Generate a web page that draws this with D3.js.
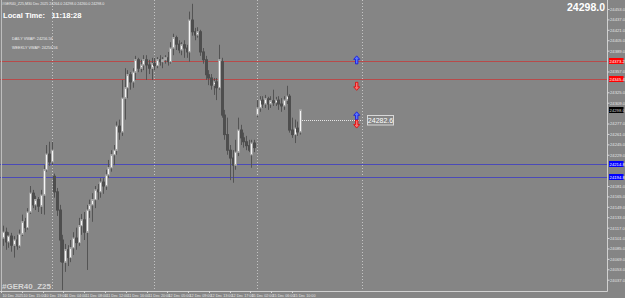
<!DOCTYPE html>
<html>
<head>
<meta charset="utf-8">
<script src="https://cdn.jsdelivr.net/npm/d3@7"></script>
<style>
  html, body { margin: 0; padding: 0; background: #858585; }
  svg { display: block; }
  text { font-family: "Liberation Sans", Arial, sans-serif; }
</style>
</head>
<body>
<div id="chart"></div>
<script>
// #GER40_Z25 M30 candlestick chart, MetaTrader style, drawn with D3.

// OHLC per bar (left to right)
const opens = [24101,24110,24095,24104,24090,24098,24089,24107,24126,24117,24141,24170,24152,24160,24150,24167,24206,24230,24218,
  24196,24172,24144,24098,24064,24083,24071,24086,24101,24094,24120,24129,24110,24144,24152,24160,24175,24172,24187,24181,24198,
  24209,24229,24236,24273,24264,24316,24332,24352,24341,24356,24375,24362,24367,24375,24367,24362,24369,24366,24375,24372,
  24375,24378,24372,24393,24409,24399,24390,24398,24393,24387,24436,24418,24413,24418,24387,24375,24352,24347,24336,24341,
  24332,24372,24290,24260,24236,24224,24213,24233,24267,24255,24249,24243,24229,24247,24290,24301,24313,24307,24315,24307,
  24312,24309,24313,24307,24304,24313,24319,24267,24260,24270,24264];
const highs = [24120,24117,24110,24109,24104,24106,24114,24137,24132,24147,24181,24175,24166,24164,24175,24213,24244,24249,24249,
  24200,24178,24152,24106,24092,24090,24098,24110,24117,24132,24138,24141,24152,24160,24170,24181,24184,24193,24193,24206,24221,
  24236,24244,24280,24283,24344,24362,24359,24356,24362,24381,24378,24375,24382,24382,24375,24378,24378,24379,24382,24379,
  24382,24387,24402,24415,24412,24405,24402,24405,24398,24449,24461,24424,24425,24421,24393,24381,24359,24353,24347,24347,
  24398,24378,24298,24286,24244,24236,24252,24286,24275,24263,24258,24252,24252,24252,24313,24319,24319,24321,24318,24319,
  24329,24318,24319,24316,24319,24335,24322,24286,24283,24280,24298];
const lows = [24089,24083,24086,24080,24071,24083,24086,24104,24110,24114,24138,24147,24144,24141,24138,24137,24203,24212,24213,
  24163,24135,24064,24021,24049,24058,24064,24075,24083,24089,24106,24098,24052,24132,24126,24147,24160,24163,24169,24175,24193,
  24203,24213,24229,24252,24258,24283,24316,24329,24332,24344,24356,24356,24359,24344,24353,24344,24359,24362,24366,24362,
  24369,24366,24369,24382,24390,24385,24382,24378,24378,24372,24412,24405,24409,24381,24369,24344,24336,24329,24321,24313,
  24329,24286,24252,24229,24190,24186,24206,24227,24244,24240,24236,24233,24209,24233,24286,24295,24301,24301,24298,24301,
  24304,24304,24298,24295,24298,24307,24263,24255,24247,24258,24260];
const closes = [24110,24095,24104,24090,24098,24089,24107,24126,24117,24141,24170,24152,24160,24150,24167,24206,24230,24218,24236,
  24172,24144,24098,24064,24083,24071,24086,24101,24094,24120,24129,24110,24144,24152,24160,24175,24172,24187,24181,24198,24209,
  24229,24236,24273,24264,24316,24332,24352,24341,24356,24375,24362,24367,24375,24367,24362,24369,24366,24375,24372,24375,
  24378,24372,24393,24409,24399,24390,24398,24393,24387,24436,24418,24413,24418,24387,24375,24352,24347,24336,24341,24332,
  24375,24290,24260,24236,24224,24213,24233,24267,24255,24249,24243,24236,24247,24240,24301,24313,24307,24315,24307,24312,
  24309,24313,24307,24304,24313,24319,24267,24260,24270,24264,24298];

const priceTicks = [24453.0,24437.0,24421.0,24405.0,24389.0,24373.0,24357.0,24341.0,24325.0,24309.0,24293.0,24277.0,24261.0,
  24245.0,24229.0,24213.0,24197.0,24181.0,24165.0,24149.0,24133.0,24117.0,24101.0,24085.0,24069.0,24053.0,24037.0];
const timeLabels = ['10 Dec 2025','10 Dec 15:00','10 Dec 19:00','11 Dec 04:00','11 Dec 08:00','11 Dec 12:00','11 Dec 16:00',
  '11 Dec 20:00','12 Dec 05:00','12 Dec 09:00','12 Dec 13:00','12 Dec 17:00','15 Dec 02:00','15 Dec 06:00','15 Dec 10:00'];
const labelStep = 8;
const daySeparators = [18, 56, 94, 133];

const redLevels = [24373.2, 24345.4];
const blueLevels = [24214.8, 24194.8];
const bidPrice = 24298.0;
const markerPrice = 24282.6;
const arrowBar = 131;
const arrowsUp = [24381, 24295];
const arrowsDown = [24328, 24270];

const W = 625, H = 298;
const plotRight = 607, plotBottom = 291;

const x = d3.scaleLinear().domain([0, 110]).range([3, 300]);
const y = d3.scaleLinear().domain([24035, 24453]).range([281, 9]);
const px = i => Math.round(x(i));
const tx = d3.scaleLinear().domain([0, 112]).range([1, 292]);

const svg = d3.select('#chart').append('svg').attr('width', W).attr('height', H);
svg.append('rect').attr('width', W).attr('height', H).attr('fill', '#858585');

// period separators
svg.append('g').selectAll('line').data(daySeparators).join('line')
  .attr('x1', d => px(d) + 0.5).attr('x2', d => px(d) + 0.5)
  .attr('y1', 0).attr('y2', plotBottom)
  .attr('stroke', '#c4c4c4').attr('stroke-dasharray', '1,2');

// horizontal levels
const levels = redLevels.map(v => ({ v, c: '#b84a4a' })).concat(blueLevels.map(v => ({ v, c: '#4a4ab8' })));
svg.append('g').selectAll('line').data(levels).join('line')
  .attr('x1', 0).attr('x2', plotRight)
  .attr('y1', d => Math.round(y(d.v)) + 0.5).attr('y2', d => Math.round(y(d.v)) + 0.5)
  .attr('stroke', d => d.c).attr('stroke-width', 1.2);

// candles
const bars = d3.range(opens.length).map(i => ({ i, o: opens[i], h: highs[i], l: lows[i], c: closes[i] }));
const cg = svg.append('g');
cg.selectAll('line').data(bars).join('line')
  .attr('x1', d => px(d.i) + 0.5).attr('x2', d => px(d.i) + 0.5)
  .attr('y1', d => y(d.h)).attr('y2', d => y(d.l))
  .attr('stroke', '#545454');
cg.selectAll('rect').data(bars).join('rect')
  .attr('x', d => px(d.i) - 0.5)
  .attr('width', 2)
  .attr('y', d => y(Math.max(d.o, d.c)))
  .attr('height', d => Math.max(1, Math.abs(y(d.o) - y(d.c))))
  .attr('fill', d => d.c >= d.o ? '#f4f4f4' : '#4e4e4e')
  .attr('stroke', d => d.c >= d.o ? '#a6a6a6' : '#4e4e4e')
  .attr('stroke-width', 1);

// marker dotted line and label
const my = Math.round(y(markerPrice)) + 0.5;
svg.append('line').attr('x1', px(110) + 2).attr('x2', px(daySeparators[3]))
  .attr('y1', my).attr('y2', my).attr('stroke', '#e6e6e6').attr('stroke-dasharray', '1,1');
svg.append('rect').attr('x', 367.5).attr('y', my - 5).attr('width', 26).attr('height', 9.5)
  .attr('fill', '#858585').attr('stroke', '#d8d8d8');
svg.append('text').attr('x', 380.5).attr('y', my + 2.6).attr('text-anchor', 'middle')
  .attr('font-size', 7).attr('fill', '#ffffff').text(markerPrice.toFixed(1));

// arrows
const ax = x(arrowBar);
const upPath = 'M0,0 L3,3.5 L1.2,3.5 L1.2,8 L-1.2,8 L-1.2,3.5 L-3,3.5 Z';
const downPath = 'M0,0 L3,-3.5 L1.2,-3.5 L1.2,-8 L-1.2,-8 L-1.2,-3.5 L-3,-3.5 Z';
svg.append('g').selectAll('path').data(arrowsUp).join('path')
  .attr('d', upPath).attr('transform', d => `translate(${ax},${y(d)})`)
  .attr('fill', '#5a78ff').attr('stroke', '#1010e0').attr('stroke-width', 0.8);
svg.append('g').selectAll('path').data(arrowsDown).join('path')
  .attr('d', downPath).attr('transform', d => `translate(${ax},${y(d)})`)
  .attr('fill', '#ff7070').attr('stroke', '#e00000').attr('stroke-width', 0.8);

// frame
svg.append('line').attr('x1', 1.5).attr('x2', 1.5).attr('y1', 0).attr('y2', plotBottom).attr('stroke', '#bdbdbd');
svg.append('line').attr('x1', plotRight + 0.5).attr('x2', plotRight + 0.5).attr('y1', 0).attr('y2', plotBottom + 0.5)
  .attr('stroke', '#d0d0d0');
svg.append('line').attr('x1', 0).attr('x2', plotRight + 0.5).attr('y1', plotBottom + 0.5).attr('y2', plotBottom + 0.5)
  .attr('stroke', '#d0d0d0');

// price boxes on axis
const boxes = redLevels.map(v => ({ v, f: '#ff0000', t: '#ffffff' }))
  .concat([{ v: bidPrice, f: '#000000', t: '#d0d0d0' }])
  .concat(blueLevels.map(v => ({ v, f: '#0000ff', t: '#ffffff' })));

// price axis (labels hidden under the price boxes)
const freeTicks = priceTicks.filter(t => boxes.every(b => Math.abs(y(t) - y(b.v)) > 5));
const yAxis = d3.axisRight(y).tickValues(freeTicks).tickSize(2).tickPadding(0.5).tickFormat(d3.format('.1f'));
const ya = svg.append('g').attr('transform', `translate(${plotRight + 0.5},0)`).call(yAxis);
ya.select('.domain').remove();
ya.selectAll('line').attr('stroke', '#d8d8d8');
ya.selectAll('text').attr('font-size', 4.2).attr('fill', '#e4e4e4')
  .attr('font-family', '"Liberation Sans", Arial, sans-serif');

const bg = svg.append('g').selectAll('g').data(boxes).join('g')
  .attr('transform', d => `translate(${plotRight + 1},${Math.round(y(d.v))})`);
bg.append('rect').attr('x', 1).attr('y', -3).attr('width', 14.5).attr('height', 6).attr('fill', d => d.f);
bg.append('text').attr('x', 1.6).attr('y', 1.6).attr('font-size', 4.2).attr('fill', d => d.t)
  .text(d => d.v.toFixed(1));

// time axis
const tIdx = timeLabels.map((_, k) => k * labelStep);
const tg = svg.append('g').selectAll('g').data(tIdx).join('g')
  .attr('transform', d => `translate(${Math.round(tx(d)) + 0.5},${plotBottom})`);
tg.append('line').attr('y1', 0).attr('y2', 2).attr('stroke', '#d8d8d8');
tg.append('text').attr('x', 1).attr('y', 5.8).attr('font-size', 3.7).attr('fill', '#e4e4e4')
  .text((d, k) => timeLabels[k]);

// texts
svg.append('text').attr('x', 2).attr('y', 5).attr('font-size', 3.6).attr('fill', '#ececec')
  .text('#GER40_Z25,M30  Dec 2025  24264.0 24298.0 24260.0 24298.0');
svg.append('text').attr('x', 3).attr('y', 18).attr('font-size', 7.6).attr('font-weight', 'bold')
  .attr('fill', '#ffffff').attr('xml:space', 'preserve').text('Local Time:   11:18:28');
svg.append('text').attr('x', 12).attr('y', 39.5).attr('font-size', 3.8).attr('fill', '#ececec')
  .text('DAILY VWAP: 24256.56');
svg.append('text').attr('x', 12).attr('y', 49).attr('font-size', 3.8).attr('fill', '#ececec')
  .text('WEEKLY VWAP: 24256.56');
svg.append('text').attr('x', 605).attr('y', 11).attr('text-anchor', 'end').attr('font-size', 10.5)
  .attr('font-weight', 'bold').attr('fill', '#ffffff').text(bidPrice.toFixed(1));
svg.append('text').attr('x', 2).attr('y', 289).attr('font-size', 8).attr('font-weight', 'bold')
  .attr('fill', '#d6d6d6').text('#GER40_Z25');
</script>
</body>
</html>
